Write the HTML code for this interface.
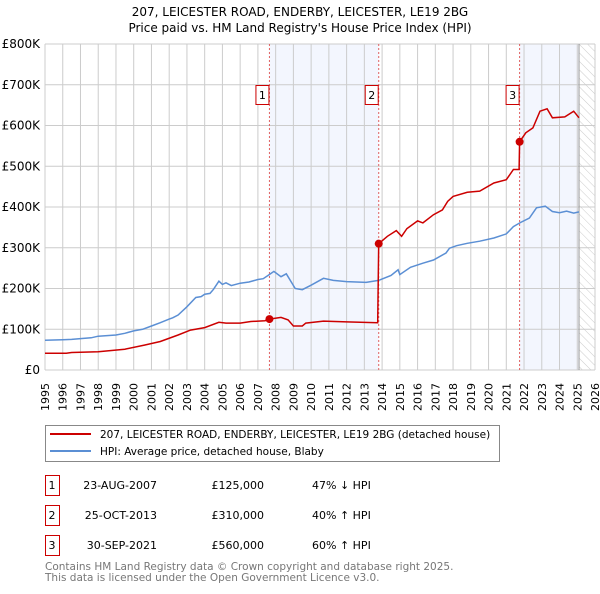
<!DOCTYPE html>
<html><head><meta charset="utf-8"><style>
body{margin:0;background:#fff;width:600px;height:590px;overflow:hidden;font-family:"DejaVu Sans","Liberation Sans",sans-serif}
svg text{font-family:"DejaVu Sans","Liberation Sans",sans-serif}
</style></head><body>
<svg id="chart" width="600" height="590" xmlns="http://www.w3.org/2000/svg">
<defs><pattern id="hatch" width="6" height="6" patternUnits="userSpaceOnUse" patternTransform="rotate(-45)"><line x1="0" y1="0" x2="0" y2="6" stroke="#ccc" stroke-width="1"/></pattern></defs>
<text x="300" y="16" text-anchor="middle" font-size="12">207, LEICESTER ROAD, ENDERBY, LEICESTER, LE19 2BG</text>
<text x="300" y="32" text-anchor="middle" font-size="12">Price paid vs. HM Land Registry's House Price Index (HPI)</text>
<g id="plot"></g>
<g>
<rect x="45.5" y="425.5" width="454" height="36" fill="#fff" stroke="#888"/>
<line x1="50" y1="434" x2="91" y2="434" stroke="#cc0000" stroke-width="2"/>
<text x="100" y="438" font-size="10.5">207, LEICESTER ROAD, ENDERBY, LEICESTER, LE19 2BG (detached house)</text>
<line x1="50" y1="451" x2="91" y2="451" stroke="#5b8fd4" stroke-width="2"/>
<text x="100" y="455" font-size="10.5">HPI: Average price, detached house, Blaby</text>
</g>
<g id="table" font-size="11"></g>
<text x="45" y="570" font-size="10.5" fill="#777">Contains HM Land Registry data © Crown copyright and database right 2025.</text>
<text x="45" y="581" font-size="10.5" fill="#777">This data is licensed under the Open Government Licence v3.0.</text>
</svg>
<script>
const yTicks=[0,100000,200000,300000,400000,500000,600000,700000,800000];
const yTickLabels=["£0","£100K","£200K","£300K","£400K","£500K","£600K","£700K","£800K"];
const years=[1995,1996,1997,1998,1999,2000,2001,2002,2003,2004,2005,2006,2007,2008,2009,2010,2011,2012,2013,2014,2015,2016,2017,2018,2019,2020,2021,2022,2023,2024,2025,2026];
const hpiSeries=[[1995,73000],[1996,74000],[1996.5,75000],[1997,77000],[1997.6,79000],[1998,83000],[1999,86000],[1999.5,90000],[2000,96000],[2000.5,100000],[2001,108000],[2001.5,116000],[2002,125000],[2002.2,128000],[2002.5,135000],[2003,155000],[2003.5,178000],[2003.8,180000],[2004,186000],[2004.3,188000],[2004.5,198000],[2004.8,218000],[2005,210000],[2005.2,214000],[2005.5,207000],[2006,213000],[2006.5,216000],[2007,222000],[2007.3,224000],[2007.6,233000],[2007.9,242000],[2008.3,229000],[2008.6,236000],[2009.1,200000],[2009.5,197000],[2010,208000],[2010.7,225000],[2011.25,220000],[2012,217000],[2013.1,215000],[2013.8,220000],[2014.5,232000],[2014.9,246000],[2015,234000],[2015.6,252000],[2016.3,262000],[2016.9,270000],[2017.6,287000],[2017.8,299000],[2018.2,305000],[2018.8,311000],[2019.5,316000],[2020.3,324000],[2021,334000],[2021.4,352000],[2021.8,362000],[2022.3,373000],[2022.7,398000],[2023.2,402000],[2023.6,389000],[2024,386000],[2024.4,390000],[2024.8,385000],[2025.1,388000]];
const priceSeries=[[1995,41000],[1996.2,41000],[1996.5,43000],[1998,45000],[1999.5,51000],[2000.6,61000],[2001.5,70000],[2002.5,86000],[2003.2,98000],[2004,104000],[2004.8,117000],[2005.2,115000],[2006,115000],[2006.6,119000],[2007.4,121000],[2007.65,125000],[2008.3,129000],[2008.7,123000],[2009,108000],[2009.5,108000],[2009.7,115000],[2010.7,120000],[2012,118000],[2013.75,116000],[2013.81,310000],[2014.3,328000],[2014.8,342000],[2015.1,328000],[2015.4,347000],[2016,366000],[2016.3,361000],[2016.9,381000],[2017.4,393000],[2017.7,414000],[2018,426000],[2018.8,436000],[2019.5,439000],[2020.3,459000],[2021,467000],[2021.4,492000],[2021.72,492000],[2021.75,560000],[2022.1,582000],[2022.5,594000],[2022.9,635000],[2023.3,641000],[2023.6,619000],[2024.3,621000],[2024.8,635000],[2025.1,619000]];
const saleYears=[2007.65,2013.81,2021.75];
const saleValues=[125000,310000,560000];
const saleLabels=["1","2","3"];
const saleDates=["23-AUG-2007","25-OCT-2013","30-SEP-2021"];
const salePrices=["£125,000","£310,000","£560,000"];
const saleHpi=["47% ↓ HPI","40% ↑ HPI","60% ↑ HPI"];
const NS="http://www.w3.org/2000/svg";
const L=45,R=595,T=44,B=370,X0=1995,X1=2026,YMAX=800000;
const xs=y=>L+(y-X0)/(X1-X0)*(R-L);
const ys=v=>B-v/YMAX*(B-T);
function mk(tag,attrs,parent){const e=document.createElementNS(NS,tag);for(const k in attrs)e.setAttribute(k,attrs[k]);parent.appendChild(e);return e;}
const g=document.getElementById('plot');
const sh1=mk('rect',{x:xs(saleYears[0]),y:T,width:xs(saleYears[1])-xs(saleYears[0]),height:B-T,fill:'#f3f6fe'},g);


const sh2=mk('rect',{x:xs(saleYears[2]),y:T,width:xs(2025.1)-xs(saleYears[2]),height:B-T,fill:'#f3f6fe'},g);


const ht=mk('rect',{x:xs(2025.1),y:T,width:R-xs(2025.1),height:B-T,fill:'url(#hatch)'},g);


years.forEach(yr=>{
  const x=xs(yr);
  const gl=mk('line',{x1:x,y1:T,x2:x,y2:B,stroke:'#ccc','stroke-width':1},g);
  
  
  const t=mk('text',{x:0,y:0,transform:`translate(${x+4},383) rotate(-90)`,'text-anchor':'end','font-size':11},g);
  
  
  t.textContent=yr;
});
yTicks.forEach((v,i)=>{
  const y=ys(v);
  const gl=mk('line',{x1:L,y1:y,x2:R,y2:y,stroke:'#ccc','stroke-width':1},g);
  
  
  const t=mk('text',{x:L-5,y:y+4,'text-anchor':'end','font-size':12},g);
  
  
  t.textContent=yTickLabels[i];
});
const fl=mk('line',{x1:xs(2025.1),y1:T,x2:xs(2025.1),y2:B,stroke:'#999','stroke-width':1},g);


saleYears.forEach((yr,i)=>{
  const x=xs(yr);
  const vl=mk('line',{x1:x,y1:T,x2:x,y2:B,stroke:'#e06060','stroke-width':1,'stroke-dasharray':'2,2'},g);
  
  
  const bx=mk('rect',{x:x-13.5,y:85.5,width:13,height:19,fill:'#fff',stroke:'#cc0000'},g);
  
  
  const t=mk('text',{x:x-7,y:99,'text-anchor':'middle','font-size':11},g);
  
  
  t.textContent=saleLabels[i];
});
const pts=s=>s.map(p=>xs(p[0]).toFixed(1)+','+ys(p[1]).toFixed(1)).join(' ');
const hl=mk('polyline',{points:pts(hpiSeries),fill:'none',stroke:'#5b8fd4','stroke-width':1.5},g);


const pl=mk('polyline',{points:pts(priceSeries),fill:'none',stroke:'#cc0000','stroke-width':1.5},g);


saleYears.forEach((yr,i)=>{
  const c=mk('circle',{cx:xs(yr),cy:ys(saleValues[i]),r:4,fill:'#cc0000'},g);
  
  
});
const tb=document.getElementById('table');
saleLabels.forEach((lb,i)=>{
  const y=475+i*30;
  const bx=mk('rect',{x:45.5,y:y+0.5,width:14,height:20,fill:'#fff',stroke:'#cc0000'},tb);
  
  
  const vals=[[52,'middle',lb],[157,'end',saleDates[i]],[264,'end',salePrices[i]],[312,'start',saleHpi[i]]];
  vals.forEach(v=>{
    const t=mk('text',{x:v[0],y:y+14,'text-anchor':v[1]},tb);
    
    
    t.textContent=v[2];
  });
});
</script>
</body></html>
